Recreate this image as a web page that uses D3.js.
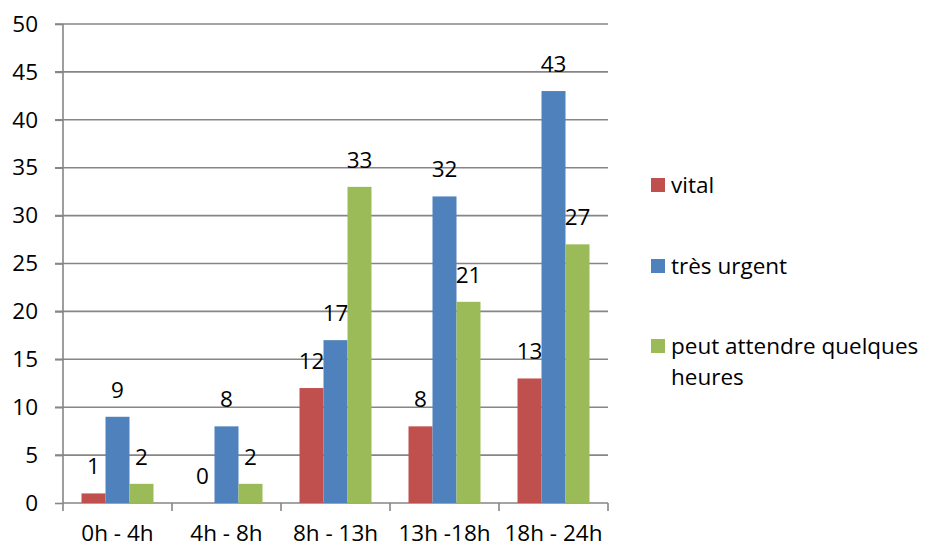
<!DOCTYPE html>
<html>
<head>
<meta charset="utf-8">
<script src="https://cdn.jsdelivr.net/npm/d3@7"></script>
<style>
  body { margin: 0; background: #fff; }
  text { font-family: "Open Sans", sans-serif; fill: #000; }
</style>
</head>
<body>
<script>
// data
var categories = ["0h - 4h", "4h - 8h", "8h - 13h", "13h -18h", "18h - 24h"];
var seriesNames = ["vital", "très urgent", "peut attendre quelques heures"];
var vital = [1, 0, 12, 8, 13];
var tresUrgent = [9, 8, 17, 32, 43];
var peutAttendre = [2, 2, 33, 21, 27];
var yTicks = [0, 5, 10, 15, 20, 25, 30, 35, 40, 45, 50];
var colors = ["#C0504D", "#4F81BD", "#9BBB59"];

var width = 930, height = 549;
var fontSize = 22.5;
var series = [vital, tresUrgent, peutAttendre];

var svg = d3.select("body").append("svg")
    .attr("width", width)
    .attr("height", height);

var x = d3.scaleBand()
    .domain(categories)
    .range([63, 608]);

// bars take 72 of the 109px band, centered
var inner = d3.scaleBand()
    .domain(d3.range(series.length))
    .range([0, 72]);
var groupOff = (x.bandwidth() - 72) / 2;

var y = d3.scaleLinear()
    .domain([0, 50])
    .range([503, 24]);

var gridColor = "#868686";

// gridlines
svg.append("g").selectAll("line")
  .data(yTicks.filter(function(d) { return d > 0; }))
  .enter().append("line")
    .attr("x1", 55).attr("x2", 608)
    .attr("y1", function(d) { return y(d); })
    .attr("y2", function(d) { return y(d); })
    .attr("stroke", gridColor)
    .attr("stroke-width", 1.6);

// y axis
var yAxis = svg.append("g")
    .attr("transform", "translate(63,0)")
    .call(d3.axisLeft(y).tickValues(yTicks).tickSize(8).tickPadding(17));
yAxis.selectAll("line, path").attr("stroke", gridColor).attr("stroke-width", 1.6);
yAxis.select(".domain").attr("d", "M0," + y(0) + "V" + y(50));
yAxis.selectAll("text")
    .attr("font-family", "Open Sans")
    .attr("font-size", fontSize)
    .attr("fill", "#000");

// x axis
var xAxis = svg.append("g")
    .attr("transform", "translate(0," + y(0) + ")");
xAxis.append("line")
    .attr("x1", 63).attr("x2", 608)
    .attr("stroke", gridColor).attr("stroke-width", 1.6);
var bounds = categories.map(function(c) { return x(c); }).concat([x.range()[1]]);
xAxis.selectAll(".tk")
  .data(bounds)
  .enter().append("line")
    .attr("class", "tk")
    .attr("x1", function(d) { return d; })
    .attr("x2", function(d) { return d; })
    .attr("y1", 0).attr("y2", 8)
    .attr("stroke", gridColor).attr("stroke-width", 1.6);
xAxis.selectAll(".lbl")
  .data(categories)
  .enter().append("text")
    .attr("class", "lbl")
    .attr("x", function(d) { return x(d) + x.bandwidth() / 2; })
    .attr("y", 38)
    .attr("text-anchor", "middle")
    .attr("font-size", fontSize)
    .text(function(d) { return d; });

// bars
var groups = svg.selectAll(".series")
  .data(series)
  .enter().append("g")
    .attr("class", "series");

groups.selectAll("rect")
  .data(function(d, i) { return d.map(function(v, j) { return { v: v, s: i, c: categories[j] }; }); })
  .enter().append("rect")
    .attr("x", function(d) { return x(d.c) + groupOff + inner(d.s); })
    .attr("y", function(d) { return y(d.v); })
    .attr("width", inner.bandwidth())
    .attr("height", function(d) { return y(0) - y(d.v); })
    .attr("fill", function(d) { return colors[d.s]; });

// value labels
groups.selectAll(".val")
  .data(function(d, i) { return d.map(function(v, j) { return { v: v, s: i, c: categories[j] }; }); })
  .enter().append("text")
    .attr("class", "val")
    .attr("x", function(d) { return x(d.c) + groupOff + inner(d.s) + inner.bandwidth() / 2; })
    .attr("y", function(d) { return y(d.v) - 19; })
    .attr("text-anchor", "middle")
    .attr("font-size", fontSize)
    .text(function(d) { return d.v; });

// legend
var legendY = [185, 266, 346];
var legend = svg.append("g");
legend.selectAll("rect")
  .data(seriesNames)
  .enter().append("rect")
    .attr("x", 651)
    .attr("y", function(d, i) { return legendY[i] - 7; })
    .attr("width", 14).attr("height", 14)
    .attr("fill", function(d, i) { return colors[i]; });

var lt = legend.selectAll("text")
  .data(seriesNames)
  .enter().append("text")
    .attr("x", 671)
    .attr("y", function(d, i) { return legendY[i] + 8; })
    .attr("font-size", fontSize);
lt.each(function(d, i) {
  var t = d3.select(this);
  if (i === 2) {
    t.append("tspan").attr("x", 671).text("peut attendre quelques");
    t.append("tspan").attr("x", 671).attr("dy", 31).text("heures");
  } else {
    t.text(d);
  }
});
</script>
</body>
</html>
